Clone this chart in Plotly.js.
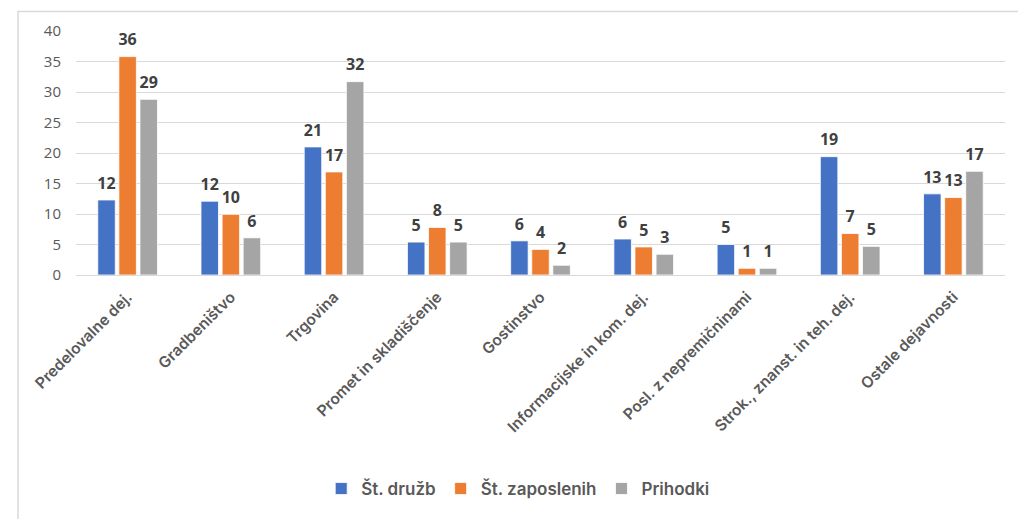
<!DOCTYPE html>
<html>
<head>
<meta charset="utf-8">
<script src="https://cdn.plot.ly/plotly-3.0.1.min.js"></script>
<style>html,body{margin:0;padding:0;background:#fff;}#chart{width:1018px;height:519px;}</style>
</head>
<body>
<div id="chart"></div>
<script>
const categories = ["Predelovalne dej.", "Gradbeništvo", "Trgovina", "Promet in skladiščenje", "Gostinstvo", "Informacijske in kom. dej.", "Posl. z nepremičninami", "Strok., znanst. in teh. dej.", "Ostale dejavnosti"];
const stDruzb = [12.3, 12.1, 21.0, 5.4, 5.6, 5.9, 5.0, 19.4, 13.3];
const stZaposlenih = [35.8, 9.95, 16.9, 7.8, 4.2, 4.6, 1.1, 6.8, 12.7];
const prihodki = [28.8, 6.1, 31.7, 5.4, 1.6, 3.4, 1.1, 4.7, 17.0];
const seriesNames = ["Št. družb", "Št. zaposlenih", "Prihodki"];
const colors = ["#4472C4", "#ED7D31", "#A5A5A5"];
const yTicks = [0, 5, 10, 15, 20, 25, 30, 35, 40];

const seriesValues = [stDruzb, stZaposlenih, prihodki];
const FONT = "'Open Sans', 'Noto Sans', sans-serif";
const SEMI = "Inter, 'Open Sans', sans-serif";

const traces = [];
seriesValues.forEach((vals, i) => {
  traces.push({
    type: 'bar', x: categories, y: vals, name: seriesNames[i],
    offsetgroup: 'g' + i, alignmentgroup: 'a',
    marker: {color: colors[i], line: {color: '#ffffff', width: 0.8}},
    hoverinfo: 'skip'
  });
});
seriesValues.forEach((vals, i) => {
  traces.push({
    type: 'scatter', mode: 'markers+text', x: categories, y: vals,
    offsetgroup: 'g' + i, alignmentgroup: 'a', orientation: 'v',
    marker: {size: 10, opacity: 0, color: colors[i]},
    texttemplate: '%{y:.0f}', textposition: 'top center',
    textfont: {family: FONT, size: 16, color: '#404040', weight: 700},
    showlegend: false, hoverinfo: 'skip', cliponaxis: false
  });
});

const layout = {
  width: 1018, height: 519,
  margin: {l: 76, r: 13, t: 31, b: 242},
  paper_bgcolor: '#ffffff', plot_bgcolor: '#ffffff',
  barmode: 'group', bargap: 0.387, bargroupgap: 0.17,
  scattermode: 'group', scattergap: 0.387,
  showlegend: true,
  font: {family: FONT, color: '#595959'},
  xaxis: {
    type: 'category', tickangle: -45, showgrid: false, zeroline: false,
    showline: false, ticks: '', ticklabelstandoff: 9,
    tickfont: {family: SEMI, size: 15.5, color: '#595959', weight: 600}
  },
  yaxis: {
    range: [0, 40], tickvals: yTicks, showgrid: true, gridcolor: '#d9d9d9', gridwidth: 1,
    zeroline: true, zerolinecolor: '#d9d9d9', zerolinewidth: 1, showline: false,
    ticks: '', ticklabelstandoff: 14,
    tickfont: {family: FONT, size: 15, color: '#595959'}
  },
  legend: {
    orientation: 'h', x: 0.476, xanchor: 'center', y: -0.877, yanchor: 'middle',
    font: {family: SEMI, size: 17, color: '#595959', weight: 600},
    bgcolor: 'rgba(0,0,0,0)'
  },
  shapes: [{
    type: 'rect', xref: 'paper', yref: 'paper',
    x0: -0.0624, x1: 1.05, y0: -1.05, y1: 1.08,
    line: {color: '#d9d9d9', width: 1.5}, fillcolor: 'rgba(0,0,0,0)', layer: 'below'
  }]
};

Plotly.newPlot('chart', traces, layout, {displayModeBar: false, staticPlot: true});
</script>
</body>
</html>
